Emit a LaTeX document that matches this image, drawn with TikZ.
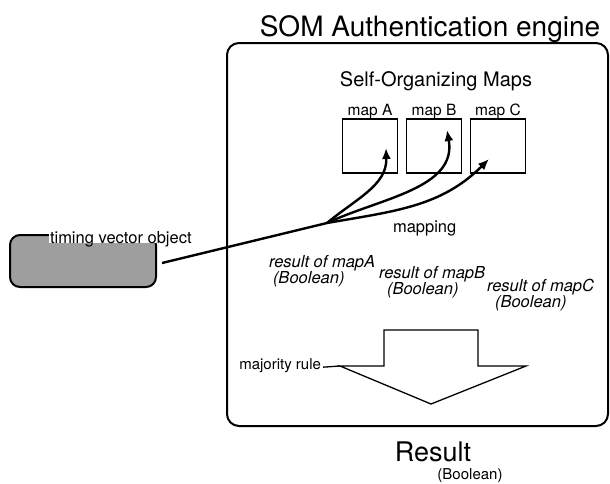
\documentclass[tikz,border=0pt]{standalone}
\usepackage{fontspec}
\setmainfont{TeX Gyre Heros}
\usetikzlibrary{arrows.meta}
\newcommand{\fsz}[1]{\fontsize{#1}{#1}\selectfont}
% one map of the SOM: box and its label above it
\newcommand{\somap}[2]{
  \node[mapbox] (map#1) at (#2,146) {};
  \node[maplabel] (lbl#1) at (#2,115) {map #1};
}
\tikzset{
  every node/.style = {inner sep=0pt, outer sep=0pt},
  engine/.style     = {draw, line width=2pt, rounded corners=12pt,
                       minimum width=381pt, minimum height=383pt},
  mapbox/.style     = {draw, line width=1.4pt, minimum width=55pt,
                       minimum height=54pt},
  maplabel/.style   = {font=\fsz{15.5}, anchor=base},
  vecbox/.style     = {draw, line width=2pt, rounded corners=10pt,
                       fill=black!38, minimum width=146pt, minimum height=52pt},
  mapto/.style      = {line width=2.4pt, -{Latex[length=11pt,width=9pt]}},
  resultlbl/.style  = {font=\fsz{16.5}\itshape, anchor=base west, text depth=0pt},
  plainlbl/.style   = {font=\fsz{16.5}, anchor=base west, text depth=0pt}
}

\begin{document}
\begin{tikzpicture}[x=1pt, y=-1pt]
  \useasboundingbox (0,0) rectangle (610,483);

  \node[engine] (engine) at (417.5,234.5) {};
  \node[font=\fsz{28}, anchor=base] (title) at (430,36) {SOM Authentication engine};

  \node[font=\fsz{20}, anchor=base] (som) at (436,86) {Self-Organizing Maps};
  \somap{A}{370}
  \somap{B}{434}
  \somap{C}{498}

  % input object
  \node[vecbox] (vector) at (83,261) {};
  \node[plainlbl, fill=white, inner xsep=1pt] (vectorlbl) at (49,243) {timing vector object};

  \coordinate (branch) at (327,223);
  \coordinate (tipA) at (386,148);
  \coordinate (tipB) at (447,130);
  \coordinate (tipC) at (489,159);
  \draw[line width=2.4pt] ([xshift=6pt,yshift=-2pt]vector.east) -- (branch);
  \draw[mapto] (branch) to[out=40, in=-88] (tipA);
  \draw[mapto] (branch) to[out=25, in=-80] (tipB);
  \draw[mapto] (branch) to[out=10, in=-135] (tipC);
  \node[plainlbl] (mapping) at (393,232) {mapping};

  \node[resultlbl] (resA) at (269,267) {result of mapA};
  \node[resultlbl] (boolA) at (273,283) {(Boolean)};
  \node[resultlbl] (resB) at (379,278) {result of mapB};
  \node[resultlbl] (boolB) at (387,294) {(Boolean)};
  \node[resultlbl] (resC) at (487,291) {result of mapC};
  \node[resultlbl] (boolC) at (495,307) {(Boolean)};

  % majority vote arrow
  \coordinate (wingL) at (340,366);
  \coordinate (wingR) at (526,366);
  \coordinate (tip) at (431,404);
  \draw[line width=1.3pt, line join=miter] (384,330) -- (478,330) -- (478,366)
    -- (wingR) -- (tip) -- (wingL) -- (384,366) -- cycle;
  \node[font=\fsz{15}, anchor=base east] (majority) at (321,369) {majority rule};
  \draw[line width=1.3pt] ([xshift=2pt,yshift=-2pt]majority.east) -- (wingL);

  \node[font=\fsz{27}, anchor=base] (result) at (433,461) {Result};
  \node[font=\fsz{15}, anchor=base] (resbool) at (470,479) {(Boolean)};
\end{tikzpicture}
\end{document}
